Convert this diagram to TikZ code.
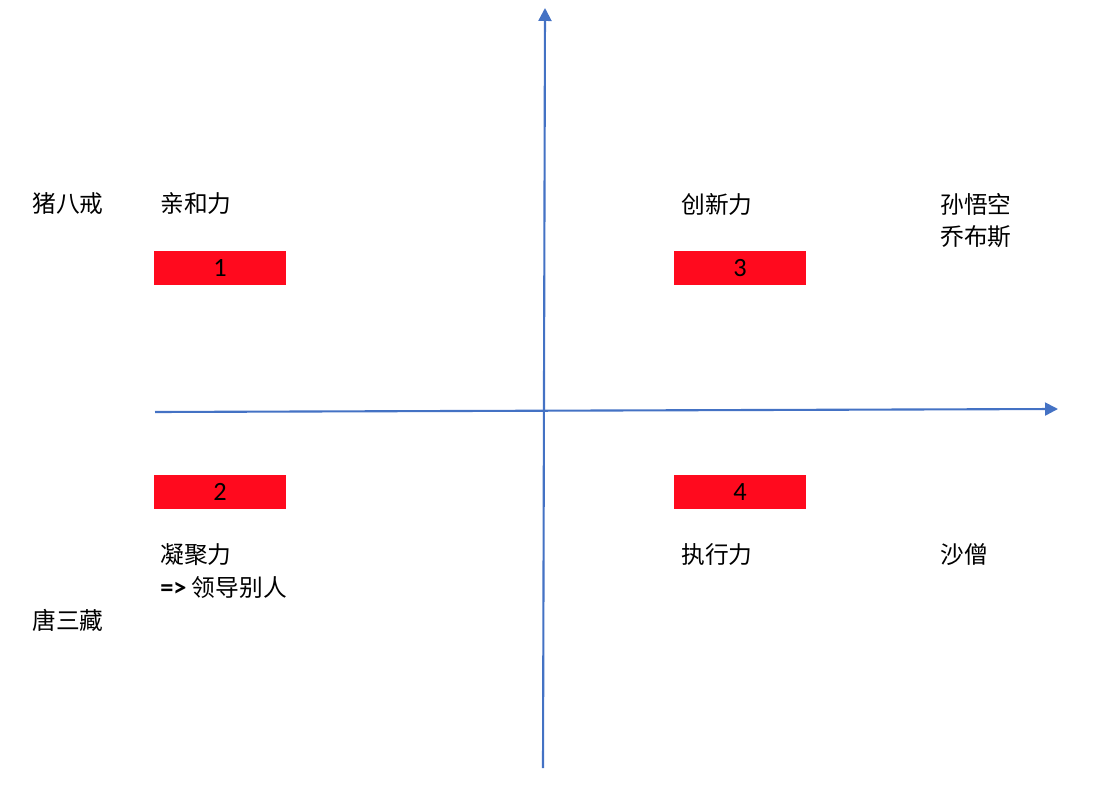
\documentclass[tikz,border=0pt]{standalone}
\usepackage{fontspec}
\setmainfont{Carlito}
\newfontfamily\cjk{Noto Sans CJK SC}
\usetikzlibrary{arrows.meta}
\definecolor{axisblue}{HTML}{4472C4}
\definecolor{boxred}{HTML}{FF0A1E}
\tikzset{
  axis/.style={draw=axisblue, line width=1.2pt, -{Triangle[length=2.6mm,width=2.6mm]}},
  redbox/.style={fill=boxred, minimum width=2.64cm, minimum height=0.68cm, inner sep=0pt, font=\fontsize{15}{17}\selectfont},
  lbl/.style={anchor=west, inner sep=0pt, font=\cjk\fontsize{13.5}{16}\selectfont, align=left}
}
\begin{document}
\begin{tikzpicture}[x=0.02cm, y=-0.02cm]
\useasboundingbox (0,0) rectangle (1098,790);
\coordinate (S) at (543,768); \coordinate (N) at (545,8);
\coordinate (W) at (155,412); \coordinate (E) at (1058,409);
\draw[axis] (S)--(N);
\draw[axis] (W)--(E);
\node[redbox] (b1) at (220,268) {1};
\node[redbox] (b3) at (740,268) {3};
\node[redbox] (b2) at (220,492) {2};
\node[redbox] (b4) at (740,492) {4};
\node[lbl] (zhu) at (32,204) {猪八戒};
\node[lbl] (qin) at (160,204) {亲和力};
\node[lbl] (chuang) at (681,204) {创新力};
\node[lbl] (sun) at (940,204) {孙悟空};
\node[lbl] (qiao) at (940,237) {乔布斯};
\node[lbl] (ning) at (160,555) {凝聚力};
\node[lbl] (ling) at (160,588) {{\fontspec{Carlito}\bfseries\fontsize{15}{17}\selectfont=>} 领导别人};
\node[lbl] (tang) at (32,620) {唐三藏};
\node[lbl] (zhi) at (681,555) {执行力};
\node[lbl] (sha) at (940,555) {沙僧};
\end{tikzpicture}
\end{document}
